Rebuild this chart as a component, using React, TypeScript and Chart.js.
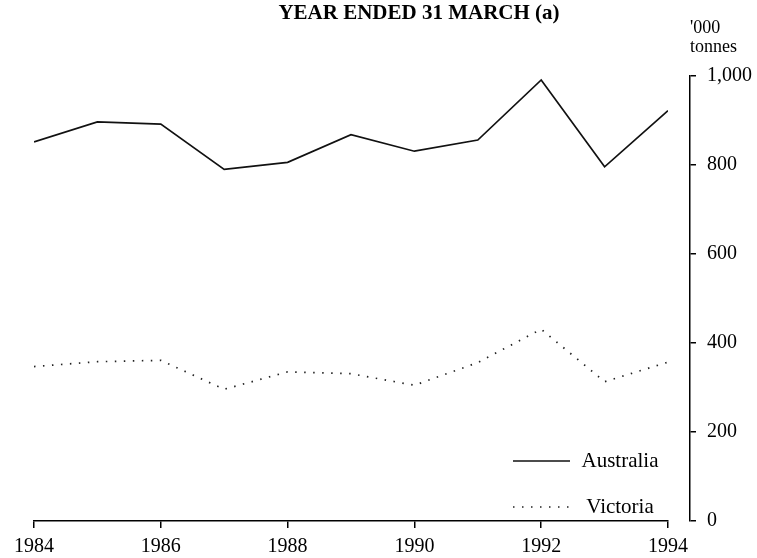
import React, { useEffect, useRef } from "react";
import { Chart, registerables } from "chart.js";

Chart.register(...registerables);

const years = [1984, 1985, 1986, 1987, 1988, 1989, 1990, 1991, 1992, 1993, 1994];
const australia = [852, 897, 892, 790, 806, 868, 831, 856, 991, 796, 922];
const victoria = [347, 358, 361, 296, 335, 331, 305, 356, 431, 313, 357];
const seriesLabels = ["Australia", "Victoria"];
const titleText = "YEAR ENDED 31 MARCH (a)";
const unitLines = ["'000", "tonnes"];

const SERIF = "'Liberation Serif', 'Times New Roman', serif";

const overlayPlugin = {
  id: "overlay",
  afterDraw(chart: any) {
    const ctx = chart.ctx;
    const area = chart.chartArea;
    const yScale = chart.scales.y;
    ctx.save();
    ctx.fillStyle = "#000";
    // title
    ctx.font = `bold 21px ${SERIF}`;
    ctx.textAlign = "center";
    ctx.textBaseline = "middle";
    ctx.fillText(titleText, 419, 14);
    // unit label
    ctx.font = `18px ${SERIF}`;
    ctx.textAlign = "left";
    ctx.fillText(unitLines[0], yScale.left, 28);
    ctx.fillText(unitLines[1], yScale.left, 47);
    // legend
    const rows = [area.bottom - 60, area.bottom - 14];
    chart.data.datasets.forEach((ds: any, i: number) => {
      const y = rows[i];
      ctx.beginPath();
      ctx.strokeStyle = ds.borderColor;
      ctx.lineWidth = ds.borderWidth;
      ctx.setLineDash(ds.borderDash || []);
      ctx.moveTo(513, y);
      ctx.lineTo(570, y);
      ctx.stroke();
      ctx.setLineDash([]);
      ctx.font = `21px ${SERIF}`;
      ctx.textAlign = "center";
      ctx.fillText(ds.label, 620, y);
    });
    ctx.restore();
  },
};

export default function App() {
  const ref = useRef<HTMLCanvasElement | null>(null);

  useEffect(() => {
    if (!ref.current) return;
    const chart = new Chart(ref.current, {
      type: "line",
      data: {
        datasets: [
          {
            label: seriesLabels[0],
            data: years.map((x, i) => ({ x, y: australia[i] })),
            borderColor: "#111",
            borderWidth: 1.7,
            pointRadius: 0,
            tension: 0,
            yAxisID: "y",
          },
          {
            label: seriesLabels[1],
            data: years.map((x, i) => ({ x, y: victoria[i] })),
            borderColor: "#222",
            borderWidth: 1.7,
            borderDash: [1.5, 7.5],
            pointRadius: 0,
            tension: 0,
            yAxisID: "y",
          },
        ],
      },
      options: {
        responsive: false,
        animation: false,
        layout: { padding: { top: 76, left: 34, right: 0, bottom: 0 } },
        plugins: {
          legend: { display: false },
          title: { display: false },
          tooltip: { enabled: false },
        },
        scales: {
          x: {
            type: "linear",
            min: 1984,
            max: 1994,
            afterFit: (s: any) => {
              s.height = 37;
            },
            grid: { drawOnChartArea: false, drawTicks: true, tickLength: 7, color: "#000", lineWidth: 1.5 },
            border: { display: true, color: "#000", width: 1.5 },
            ticks: {
              stepSize: 2,
              color: "#000",
              padding: 7,
              maxRotation: 0,
              font: { family: SERIF, size: 20 },
              callback: (v: any) => String(v),
            },
          },
          gap: {
            type: "linear",
            position: "right",
            weight: 0,
            display: true,
            grid: { display: false },
            border: { display: false },
            ticks: { display: false },
            afterFit: (s: any) => {
              s.width = 22;
            },
          },
          y: {
            type: "linear",
            position: "right",
            weight: 1,
            min: 0,
            max: 1000,
            afterFit: (s: any) => {
              s.width = 67;
            },
            grid: { drawOnChartArea: false, drawTicks: true, tickLength: 6, color: "#000", lineWidth: 1.5 },
            border: { display: true, color: "#000", width: 1.5 },
            ticks: {
              stepSize: 200,
              color: "#000",
              padding: 11,
              font: { family: SERIF, size: 20 },
              callback: (v: any) => Number(v).toLocaleString("en-US"),
            },
          },
        },
      } as any,
      plugins: [overlayPlugin],
    });
    return () => chart.destroy();
  }, []);

  return (
    <div style={{ position: "absolute", left: 0, top: 0, width: 757, height: 558, background: "#fff" }}>
      <canvas ref={ref} width={757} height={558} />
    </div>
  );
}
